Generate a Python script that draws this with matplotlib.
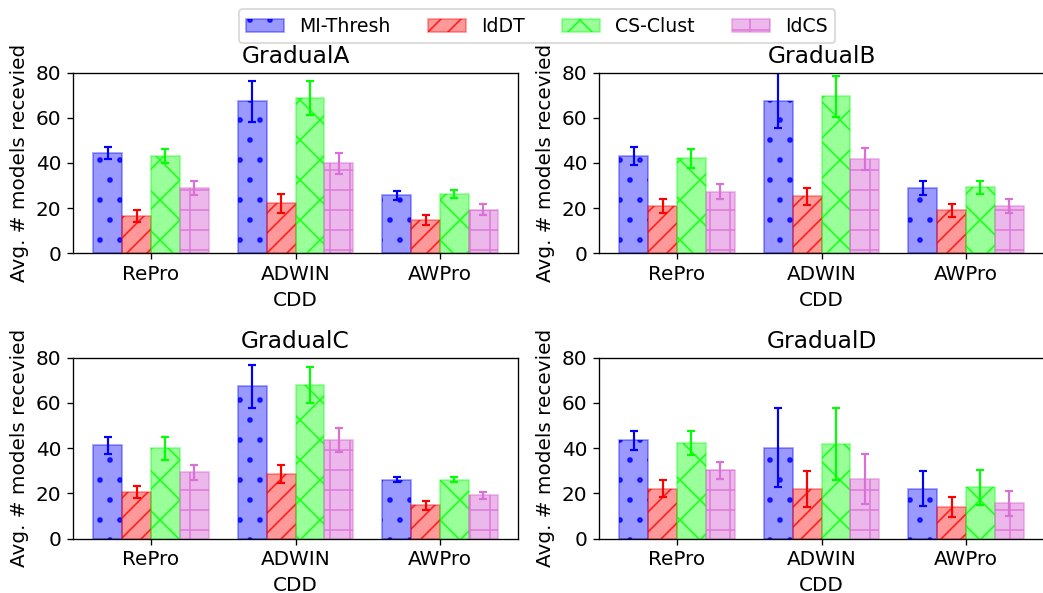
import matplotlib

matplotlib.use("Agg")
import matplotlib.pyplot as plt
import numpy as np

# Data
methods = ["MI-Thresh", "IdDT", "CS-Clust", "IdCS"]
detectors = ["RePro", "ADWIN", "AWPro"]
datasets = ["GradualA", "GradualB", "GradualC", "GradualD"]

# mean values, one row per detector, one column per method
gradual_a = [[44.3, 16.4, 43.0, 28.9],
             [67.3, 22.1, 68.9, 39.9],
             [25.7, 14.8, 26.1, 19.3]]
gradual_a_err = [[2.6, 2.6, 3.2, 3.0],
                 [9.2, 4.1, 7.6, 4.6],
                 [2.1, 2.2, 1.8, 2.5]]

gradual_b = [[43.0, 21.0, 42.1, 27.3],
             [67.6, 25.2, 69.5, 41.9],
             [28.9, 19.0, 29.2, 21.0]]
gradual_b_err = [[4.0, 3.2, 4.3, 3.2],
                 [12.1, 3.8, 9.0, 4.9],
                 [3.3, 3.0, 2.9, 3.2]]

gradual_c = [[41.2, 20.8, 39.9, 29.3],
             [67.3, 28.4, 67.9, 43.5],
             [26.1, 14.7, 26.1, 19.1]]
gradual_c_err = [[3.8, 2.7, 4.9, 3.3],
                 [9.6, 4.0, 7.9, 5.4],
                 [1.0, 2.0, 1.1, 1.5]]

gradual_d = [[43.4, 22.1, 42.4, 30.3],
             [40.2, 21.8, 41.8, 26.3],
             [22.1, 14.0, 22.7, 15.6]]
gradual_d_err = [[4.4, 3.7, 5.2, 3.7],
                 [17.4, 8.0, 15.9, 11.0],
                 [7.8, 4.6, 7.6, 5.6]]

means = [gradual_a, gradual_b, gradual_c, gradual_d]
errors = [gradual_a_err, gradual_b_err, gradual_c_err, gradual_d_err]

colors = ["blue", "red", "lime", "orchid"]
fill_alpha = [0.4, 0.4, 0.4, 0.5]
hatches = [".", "//", "x", "+"]

plt.rcParams["font.size"] = 12
plt.rcParams["hatch.linewidth"] = 1.0

fig = plt.figure(figsize=(1043 / 120, 593 / 120), dpi=120)
positions = [
    [0.070, 0.5729, 0.4267, 0.3045],
    [0.5743, 0.5729, 0.4267, 0.3045],
    [0.070, 0.0916, 0.4267, 0.3052],
    [0.5743, 0.0916, 0.4267, 0.3052],
]

width = 0.2
x = np.arange(len(detectors))
handles = []
for name, pos, vals, errs in zip(datasets, positions, means, errors):
    ax = fig.add_axes(pos)
    vals = np.array(vals)
    errs = np.array(errs)
    for j, method in enumerate(methods):
        offset = (j - 1.5) * width
        # translucent fill, then the hatch drawn on top in stronger colour
        fill = ax.bar(x + offset, vals[:, j], width, color=colors[j],
                      alpha=fill_alpha[j], edgecolor=colors[j], linewidth=1.0)
        hatch = ax.bar(x + offset, vals[:, j], width, facecolor="none",
                       edgecolor=colors[j], linewidth=0, hatch=hatches[j],
                       alpha=0.8)
        ax.errorbar(x + offset, vals[:, j], yerr=errs[:, j], fmt="none",
                    ecolor=colors[j], capsize=2.2, elinewidth=1.3, capthick=1.3)
        if name == datasets[0]:
            handles.append((fill, hatch))
    ax.set_ylim(0, 80)
    ax.set_yticks([0, 20, 40, 60, 80])
    ax.set_xticks(x, labels=detectors)
    ax.set_title(name, fontsize=14)
    ax.set_xlabel("CDD")
    ax.set_ylabel("Avg. # models recevied")

fig.legend(handles=handles, labels=methods, loc="upper center", ncol=4,
           bbox_to_anchor=(0.515, 1.0), fontsize=11.3)

fig.savefig("out.png", dpi=120)
